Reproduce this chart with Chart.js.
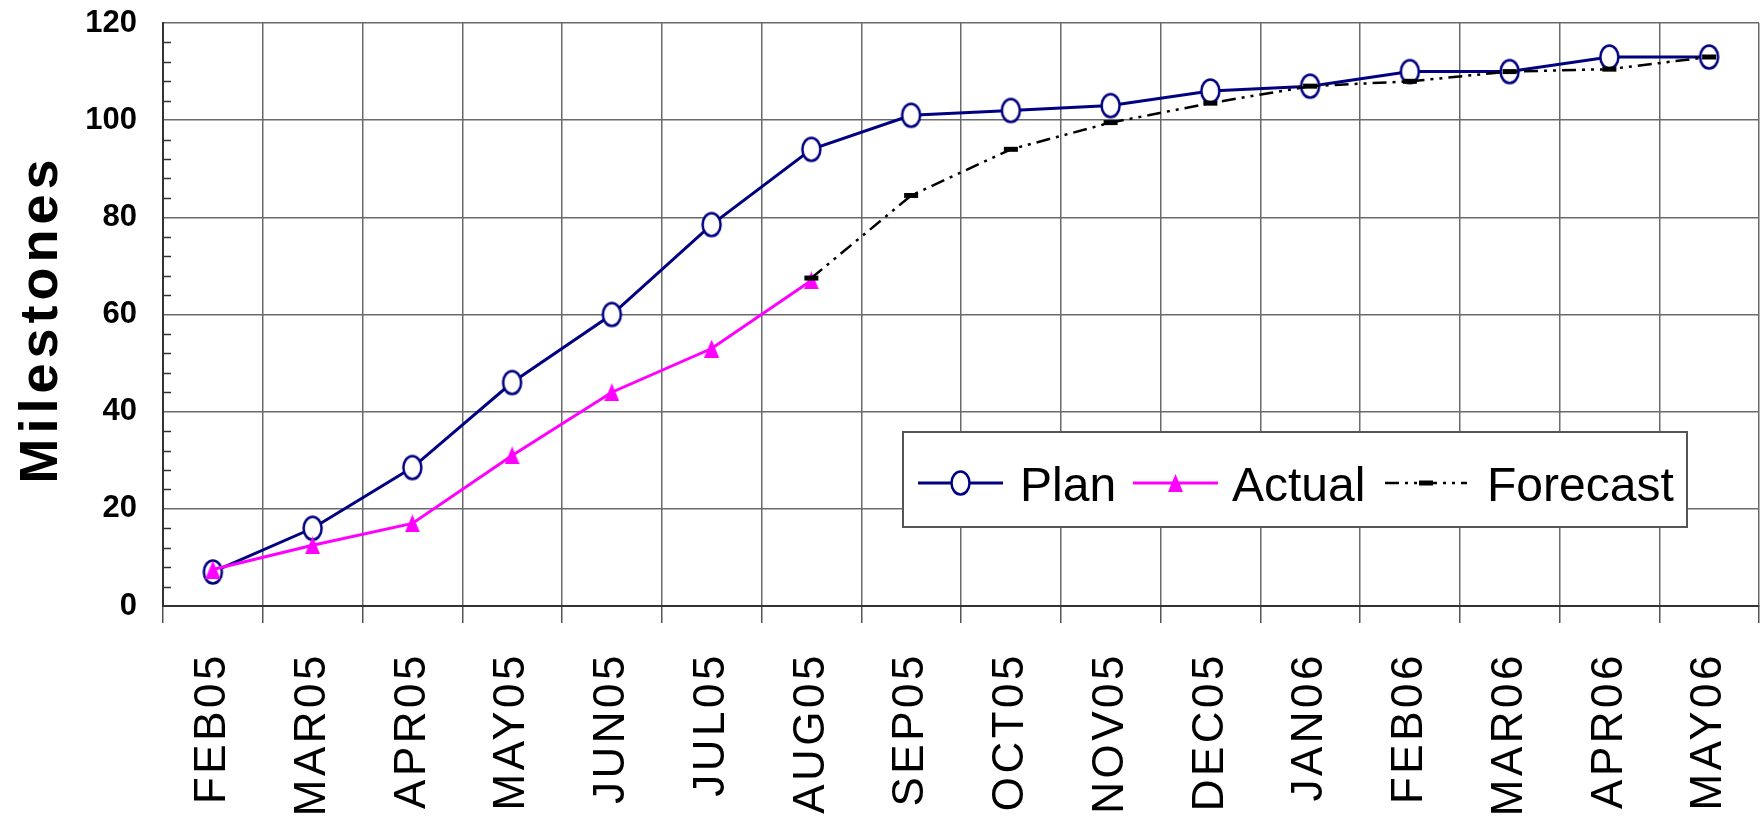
<!DOCTYPE html>
<html>
<head>
<meta charset="utf-8">
<title>Milestones</title>
<script src="https://cdn.jsdelivr.net/npm/chart.js@4.4.1/dist/chart.umd.min.js"></script>
<style>
  html, body { margin: 0; padding: 0; background: #fff; overflow: hidden; }
  #chart { display: block; }
</style>
</head>
<body>
<canvas id="chart" width="1760" height="817"></canvas>
<script>
// data
const months = ["FEB05", "MAR05", "APR05", "MAY05", "JUN05", "JUL05", "AUG05", "SEP05",
                "OCT05", "NOV05", "DEC05", "JAN06", "FEB06", "MAR06", "APR06", "MAY06"];
const planValues = [7, 16, 28.5, 46, 60, 78.5, 94, 101, 102, 103, 106, 107, 110, 110, 113, 113];
const actualValues = [7.5, 12.5, 17, 31, 44, 53, 67];
const forecastValues = [null, null, null, null, null, null, 67.5, 84.5, 94, 99.5, 103.5, 107, 108, 110, 110.5, 113];
const seriesNames = ["Plan", "Actual", "Forecast"];
const yMin = 0, yMax = 120, yStep = 20, yMinorStep = 4;

const FONT = '"Liberation Sans", Arial, sans-serif';

// markers as small canvases (ellipse for plan, triangle for actual)
function ellipseMark(w, h, color, lw) {
  const c = document.createElement("canvas");
  c.width = w + lw * 2; c.height = h + lw * 2;
  const g = c.getContext("2d");
  g.beginPath();
  g.ellipse(c.width / 2, c.height / 2, w / 2, h / 2, 0, 0, Math.PI * 2);
  g.fillStyle = "#fff";
  g.fill();
  g.lineWidth = lw;
  g.strokeStyle = color;
  g.stroke();
  return c;
}

function triangleMark(w, h, color) {
  const c = document.createElement("canvas");
  c.width = w; c.height = h;
  const g = c.getContext("2d");
  g.beginPath();
  g.moveTo(w / 2, 0);
  g.lineTo(w, h);
  g.lineTo(0, h);
  g.closePath();
  g.fillStyle = color;
  g.fill();
  return c;
}

const planMark = ellipseMark(18, 23, "#000080", 2.5);
const actualMark = triangleMark(15, 18, "#ff00ff");

function drawMark(ctx, ds, x, y) {
  if (ds.pointStyle === "line") {
    ctx.save();
    ctx.setLineDash([]);
    ctx.strokeStyle = ds.pointBorderColor;
    ctx.lineWidth = ds.pointBorderWidth;
    ctx.beginPath();
    ctx.moveTo(x - ds.pointRadius, y);
    ctx.lineTo(x + ds.pointRadius, y);
    ctx.stroke();
    ctx.restore();
  } else {
    const m = ds.pointStyle;
    ctx.drawImage(m, x - m.width / 2, y - m.height / 2);
  }
}

// minor ticks, axis title and the boxed legend
const extras = {
  id: "extras",
  afterDatasetsDraw(chart) {
    // x labels (ticks.z = 1) are drawn after this, spaced out like the original
    chart.ctx.letterSpacing = "3.5px";
  },
  afterDraw(chart) {
    const ctx = chart.ctx;
    ctx.letterSpacing = "0px";
    const y = chart.scales.y;
    const left = chart.chartArea.left;

    ctx.save();
    ctx.strokeStyle = "#333";
    ctx.lineWidth = 1.5;
    for (let v = yMin; v <= yMax; v += yMinorStep) {
      if (v % yStep === 0) continue;
      const py = Math.round(y.getPixelForValue(v)) + 0.5;
      ctx.beginPath();
      ctx.moveTo(left, py);
      ctx.lineTo(left + 8, py);
      ctx.stroke();
    }
    ctx.restore();

    // y title
    ctx.save();
    ctx.translate(42, 319);
    ctx.rotate(-Math.PI / 2);
    ctx.font = "bold 54px " + FONT;
    ctx.letterSpacing = "5px";
    ctx.textAlign = "center";
    ctx.textBaseline = "middle";
    ctx.fillStyle = "#000";
    ctx.fillText("Milestones", 0, 0);
    ctx.restore();

    // legend
    const bx = 903, by = 432, bw = 784, bh = 95;
    ctx.save();
    ctx.fillStyle = "#fff";
    ctx.fillRect(bx, by, bw, bh);
    ctx.strokeStyle = "#555";
    ctx.lineWidth = 2;
    ctx.strokeRect(bx, by, bw, bh);
    const items = [
      { x0: 918, x1: 1003, text: 1020 },
      { x0: 1133, x1: 1218, text: 1232 },
      { x0: 1385, x1: 1467, text: 1487 }
    ];
    const ly = 483;
    chart.data.datasets.forEach((ds, i) => {
      const it = items[i];
      ctx.save();
      ctx.strokeStyle = ds.borderColor;
      ctx.lineWidth = ds.borderWidth;
      ctx.setLineDash(ds.borderDash || []);
      ctx.beginPath();
      ctx.moveTo(it.x0, ly);
      ctx.lineTo(it.x1, ly);
      ctx.stroke();
      ctx.restore();
      drawMark(ctx, ds, (it.x0 + it.x1) / 2, ly);
      ctx.font = "48px " + FONT;
      ctx.fillStyle = "#000";
      ctx.textBaseline = "alphabetic";
      ctx.textAlign = "left";
      ctx.fillText(ds.label, it.text, 501);
    });
    ctx.restore();
  }
};

const gridColor = "#6a6a6a";

const chart = new Chart(document.getElementById("chart"), {
  type: "line",
  data: {
    labels: months,
    datasets: [
      {
        label: seriesNames[0],
        data: planValues,
        borderColor: "#000080",
        borderWidth: 3,
        pointStyle: planMark,
        pointRadius: 10,
        order: 3
      },
      {
        label: seriesNames[1],
        data: actualValues,
        borderColor: "#ff00ff",
        borderWidth: 3,
        pointStyle: actualMark,
        pointRadius: 8,
        order: 2
      },
      {
        label: seriesNames[2],
        data: forecastValues,
        borderColor: "#000",
        borderWidth: 2.5,
        borderDash: [14, 6, 3, 6, 3, 6],
        pointStyle: "line",
        pointRadius: 7,
        pointBorderWidth: 5,
        pointBorderColor: "#000",
        order: 1
      }
    ]
  },
  options: {
    responsive: false,
    animation: false,
    devicePixelRatio: 1,
    layout: { autoPadding: false, padding: { top: 0, right: 1, left: 0, bottom: 0 } },
    plugins: {
      legend: { display: false },
      tooltip: { enabled: false }
    },
    scales: {
      x: {
        offset: true,
        grid: { offset: true, color: gridColor, lineWidth: 1.5, tickLength: 17, tickColor: "#555" },
        border: { color: "#333", width: 2 },
        ticks: {
          autoSkip: false,
          minRotation: 90,
          maxRotation: 90,
          padding: 29,
          color: "#000",
          font: { family: FONT, size: 44 },
          z: 1
        },
        afterFit(s) {
          s.height = 211;
          s.paddingLeft = 0;
          s.paddingRight = 0;
        }
      },
      y: {
        min: yMin,
        max: yMax,
        grid: { color: gridColor, lineWidth: 1.5, drawTicks: false },
        border: { color: "#333", width: 2 },
        ticks: {
          stepSize: yStep,
          padding: 26,
          color: "#000",
          font: { family: FONT, size: 31, weight: "bold" }
        },
        afterFit(s) {
          s.width = 163;
          s.paddingTop = 23;
          s.paddingBottom = 0;
        }
      }
    }
  },
  plugins: [extras]
});
</script>
</body>
</html>
